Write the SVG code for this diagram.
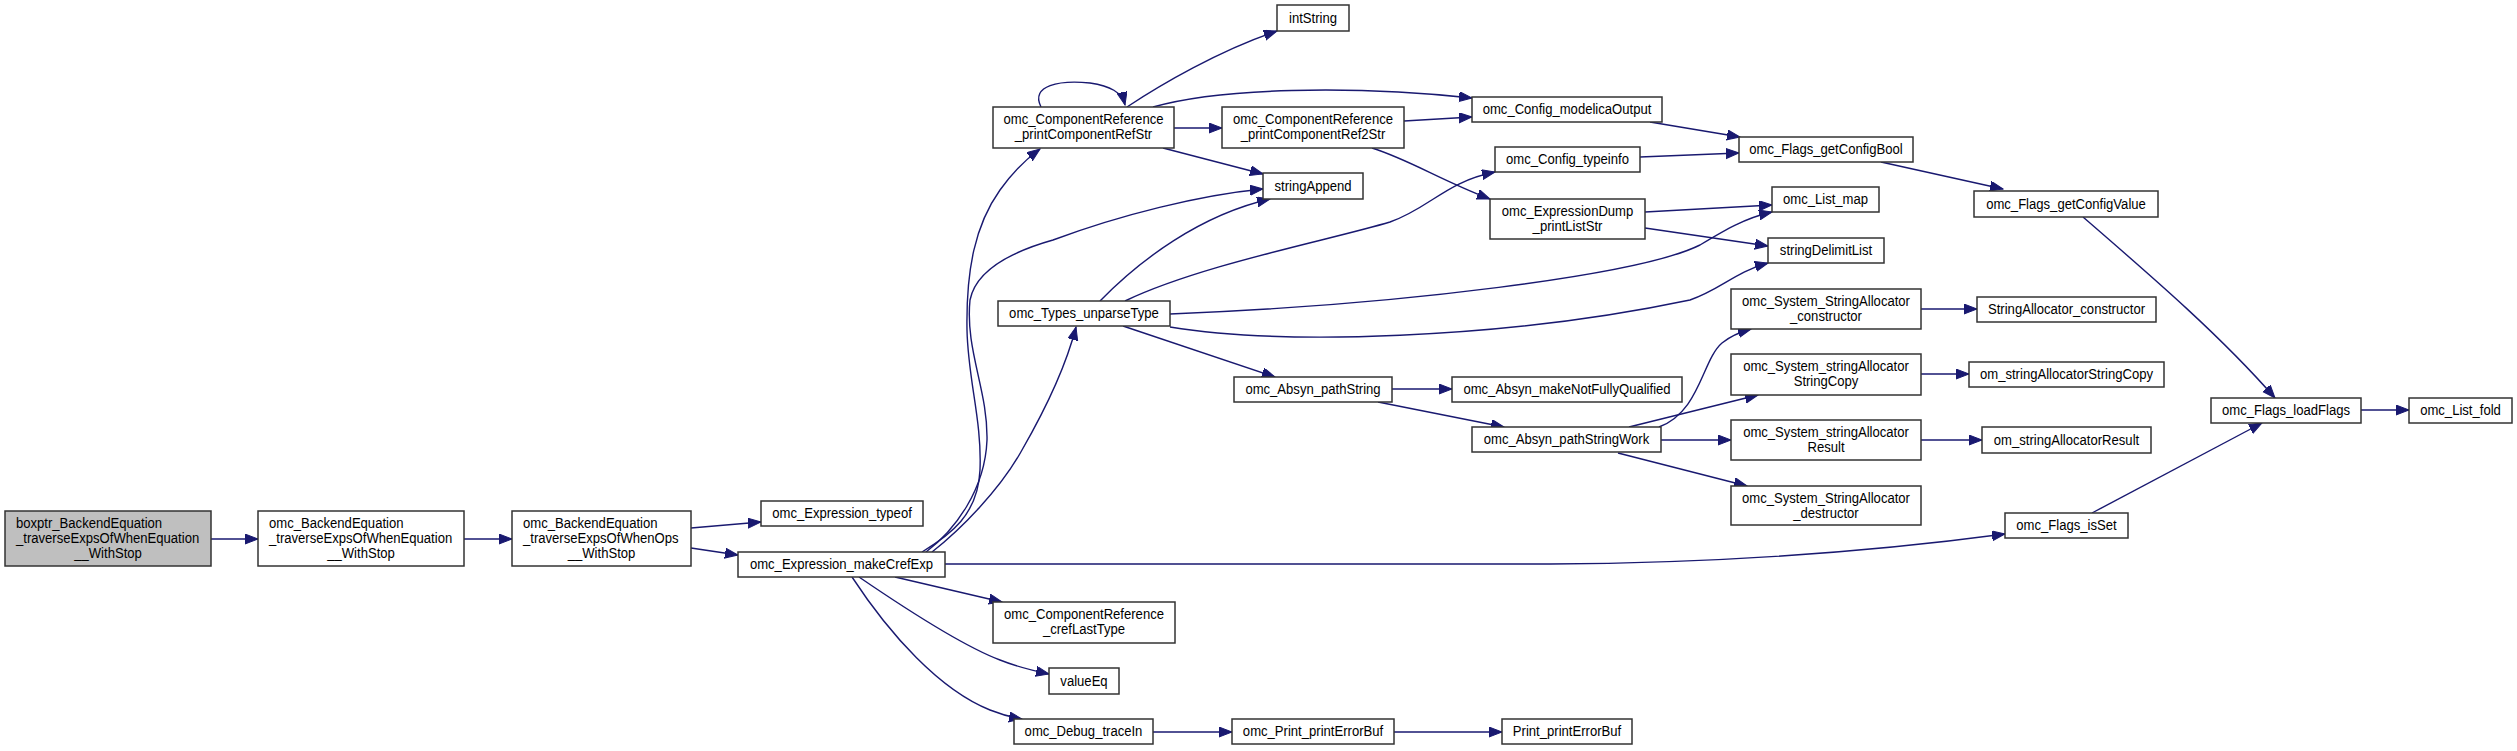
<svg xmlns="http://www.w3.org/2000/svg" width="2517" height="751" viewBox="0 0 2517 751">
<style>
.n rect{fill:#fff;stroke:#333;stroke-width:1.5}
.n.g rect{fill:#bfbfbf}
text{font-family:'Liberation Sans',Arial,Helvetica,sans-serif;font-size:15.5px;fill:#000}
.c{text-anchor:middle}
.e path{fill:none;stroke:#191970;stroke-width:1.4}
</style>
<defs>
<marker id="a" markerUnits="userSpaceOnUse" markerWidth="14" markerHeight="11" refX="13" refY="5" orient="auto">
<path d="M0,0 L13,5 L0,10 z" fill="#191970" stroke="#191970" stroke-width="1"/>
</marker>
</defs>
<rect width="2517" height="751" fill="#fff"/>
<g class="e" marker-end="url(#a)">
<path d="M211,539 L258,539" marker-end="url(#a)"/>
<path d="M464,539 L512,539" marker-end="url(#a)"/>
<path d="M691,528 L761,522" marker-end="url(#a)"/>
<path d="M691,548 L738,555" marker-end="url(#a)"/>
<path d="M922,552 C950,535 978,515 980,470 C982,420 968,380 967,330 C966,270 975,225 1000,190 C1012,173 1025,160 1040,149" marker-end="url(#a)"/>
<path d="M926,552 C955,530 985,490 987,440 C988,390 965,350 970,300 C975,275 1000,255 1053,240 C1120,215 1200,195 1263,189" marker-end="url(#a)"/>
<path d="M932,552 C960,530 1000,490 1022,450 C1045,410 1065,370 1076,327" marker-end="url(#a)"/>
<path d="M945,564 L1550,564 C1750,563 1900,548 2005,534" marker-end="url(#a)"/>
<path d="M895,577 L1002,602" marker-end="url(#a)"/>
<path d="M859,577 C900,605 960,645 1000,660 C1015,666 1030,670 1049,674" marker-end="url(#a)"/>
<path d="M852,577 C890,635 940,690 990,710 C1000,714 1010,717 1022,719" marker-end="url(#a)"/>
<path d="M1153,732 L1232,732" marker-end="url(#a)"/>
<path d="M1394,732 L1502,732" marker-end="url(#a)"/>
<path d="M1041,107 C1030,85 1060,80 1090,83 C1110,86 1122,92 1125,105" marker-end="url(#a)"/>
<path d="M1127,107 C1160,85 1220,50 1277,31" marker-end="url(#a)"/>
<path d="M1153,107 C1220,88 1350,85 1472,98" marker-end="url(#a)"/>
<path d="M1174,128 L1222,128" marker-end="url(#a)"/>
<path d="M1163,148 L1263,174" marker-end="url(#a)"/>
<path d="M1404,121 L1472,117" marker-end="url(#a)"/>
<path d="M1372,148 C1410,160 1440,180 1490,199" marker-end="url(#a)"/>
<path d="M1100,301 C1140,260 1200,215 1270,199" marker-end="url(#a)"/>
<path d="M1125,301 C1200,265 1330,240 1390,222 C1430,208 1445,182 1495,172" marker-end="url(#a)"/>
<path d="M1170,314 C1400,305 1640,275 1700,245 C1725,230 1745,218 1772,212" marker-end="url(#a)"/>
<path d="M1170,327 C1280,345 1500,340 1690,300 C1720,290 1735,272 1768,263" marker-end="url(#a)"/>
<path d="M1123,326 L1275,377" marker-end="url(#a)"/>
<path d="M1650,122 L1740,137" marker-end="url(#a)"/>
<path d="M1640,157 L1739,153" marker-end="url(#a)"/>
<path d="M1645,212 L1772,205" marker-end="url(#a)"/>
<path d="M1645,228 L1768,246" marker-end="url(#a)"/>
<path d="M1881,162 L2003,189" marker-end="url(#a)"/>
<path d="M2083,217 C2150,275 2220,335 2275,398" marker-end="url(#a)"/>
<path d="M2361,410 L2409,410" marker-end="url(#a)"/>
<path d="M2092,513 L2262,423" marker-end="url(#a)"/>
<path d="M1392,389 L1452,389" marker-end="url(#a)"/>
<path d="M1378,402 L1504,427" marker-end="url(#a)"/>
<path d="M1659,427 C1700,412 1702,360 1722,343 C1732,335 1740,332 1751,329" marker-end="url(#a)"/>
<path d="M1629,427 L1758,395" marker-end="url(#a)"/>
<path d="M1661,440 L1731,440" marker-end="url(#a)"/>
<path d="M1618,453 L1747,486" marker-end="url(#a)"/>
<path d="M1921,309 L1977,309" marker-end="url(#a)"/>
<path d="M1921,374 L1969,374" marker-end="url(#a)"/>
<path d="M1921,440 L1982,440" marker-end="url(#a)"/>
</g>
<g id="n1" class="n g"><rect x="5" y="511" width="206" height="55"/><text transform="translate(16,528) scale(0.845,1)">boxptr_BackendEquation</text><text transform="translate(16,543) scale(0.845,1)">_traverseExpsOfWhenEquation</text><text class="c" transform="translate(108,558) scale(0.845,1)">__WithStop</text></g>
<g id="n2" class="n"><rect x="258" y="511" width="206" height="55"/><text transform="translate(269,528) scale(0.845,1)">omc_BackendEquation</text><text transform="translate(269,543) scale(0.845,1)">_traverseExpsOfWhenEquation</text><text class="c" transform="translate(361,558) scale(0.845,1)">__WithStop</text></g>
<g id="n3" class="n"><rect x="512" y="511" width="179" height="55"/><text transform="translate(523,528) scale(0.845,1)">omc_BackendEquation</text><text transform="translate(523,543) scale(0.845,1)">_traverseExpsOfWhenOps</text><text class="c" transform="translate(601.5,558) scale(0.845,1)">__WithStop</text></g>
<g id="n4" class="n"><rect x="761" y="501" width="162" height="25"/><text class="c" transform="translate(842,518) scale(0.845,1)">omc_Expression_typeof</text></g>
<g id="n5" class="n"><rect x="738" y="552" width="207" height="25"/><text class="c" transform="translate(841.5,569) scale(0.845,1)">omc_Expression_makeCrefExp</text></g>
<g id="n6" class="n"><rect x="993" y="107" width="181" height="41"/><text class="c" transform="translate(1083.5,124) scale(0.845,1)">omc_ComponentReference</text><text class="c" transform="translate(1083.5,139) scale(0.845,1)">_printComponentRefStr</text></g>
<g id="n7" class="n"><rect x="998" y="301" width="172" height="25"/><text class="c" transform="translate(1084,318) scale(0.845,1)">omc_Types_unparseType</text></g>
<g id="n8" class="n"><rect x="993" y="602" width="182" height="41"/><text class="c" transform="translate(1084,619) scale(0.845,1)">omc_ComponentReference</text><text class="c" transform="translate(1084,634) scale(0.845,1)">_crefLastType</text></g>
<g id="n9" class="n"><rect x="1049" y="668" width="70" height="26"/><text class="c" transform="translate(1084,686) scale(0.845,1)">valueEq</text></g>
<g id="n10" class="n"><rect x="1014" y="719" width="139" height="25"/><text class="c" transform="translate(1083.5,736) scale(0.845,1)">omc_Debug_traceIn</text></g>
<g id="n11" class="n"><rect x="1277" y="5" width="72" height="26"/><text class="c" transform="translate(1313,23) scale(0.845,1)">intString</text></g>
<g id="n12" class="n"><rect x="1222" y="107" width="182" height="41"/><text class="c" transform="translate(1313,124) scale(0.845,1)">omc_ComponentReference</text><text class="c" transform="translate(1313,139) scale(0.845,1)">_printComponentRef2Str</text></g>
<g id="n13" class="n"><rect x="1263" y="173" width="100" height="26"/><text class="c" transform="translate(1313,191) scale(0.845,1)">stringAppend</text></g>
<g id="n14" class="n"><rect x="1234" y="377" width="158" height="25"/><text class="c" transform="translate(1313,394) scale(0.845,1)">omc_Absyn_pathString</text></g>
<g id="n15" class="n"><rect x="1232" y="719" width="162" height="25"/><text class="c" transform="translate(1313,736) scale(0.845,1)">omc_Print_printErrorBuf</text></g>
<g id="n16" class="n"><rect x="1472" y="97" width="190" height="25"/><text class="c" transform="translate(1567,114) scale(0.845,1)">omc_Config_modelicaOutput</text></g>
<g id="n17" class="n"><rect x="1495" y="147" width="145" height="25"/><text class="c" transform="translate(1567.5,164) scale(0.845,1)">omc_Config_typeinfo</text></g>
<g id="n18" class="n"><rect x="1490" y="199" width="155" height="40"/><text class="c" transform="translate(1567.5,216) scale(0.845,1)">omc_ExpressionDump</text><text class="c" transform="translate(1567.5,231) scale(0.845,1)">_printListStr</text></g>
<g id="n19" class="n"><rect x="1452" y="377" width="230" height="25"/><text class="c" transform="translate(1567,394) scale(0.845,1)">omc_Absyn_makeNotFullyQualified</text></g>
<g id="n20" class="n"><rect x="1472" y="427" width="189" height="25"/><text class="c" transform="translate(1566.5,444) scale(0.845,1)">omc_Absyn_pathStringWork</text></g>
<g id="n21" class="n"><rect x="1502" y="719" width="130" height="25"/><text class="c" transform="translate(1567,736) scale(0.845,1)">Print_printErrorBuf</text></g>
<g id="n22" class="n"><rect x="1739" y="137" width="174" height="25"/><text class="c" transform="translate(1826,154) scale(0.845,1)">omc_Flags_getConfigBool</text></g>
<g id="n23" class="n"><rect x="1772" y="187" width="107" height="25"/><text class="c" transform="translate(1825.5,204) scale(0.845,1)">omc_List_map</text></g>
<g id="n24" class="n"><rect x="1768" y="238" width="116" height="25"/><text class="c" transform="translate(1826,255) scale(0.845,1)">stringDelimitList</text></g>
<g id="n25" class="n"><rect x="1731" y="289" width="190" height="40"/><text class="c" transform="translate(1826,306) scale(0.845,1)">omc_System_StringAllocator</text><text class="c" transform="translate(1826,321) scale(0.845,1)">_constructor</text></g>
<g id="n26" class="n"><rect x="1731" y="354" width="190" height="41"/><text class="c" transform="translate(1826,371) scale(0.845,1)">omc_System_stringAllocator</text><text class="c" transform="translate(1826,386) scale(0.845,1)">StringCopy</text></g>
<g id="n27" class="n"><rect x="1731" y="420" width="190" height="40"/><text class="c" transform="translate(1826,437) scale(0.845,1)">omc_System_stringAllocator</text><text class="c" transform="translate(1826,452) scale(0.845,1)">Result</text></g>
<g id="n28" class="n"><rect x="1731" y="486" width="190" height="39"/><text class="c" transform="translate(1826,503) scale(0.845,1)">omc_System_StringAllocator</text><text class="c" transform="translate(1826,518) scale(0.845,1)">_destructor</text></g>
<g id="n29" class="n"><rect x="2005" y="513" width="123" height="25"/><text class="c" transform="translate(2066.5,530) scale(0.845,1)">omc_Flags_isSet</text></g>
<g id="n30" class="n"><rect x="1974" y="191" width="184" height="26"/><text class="c" transform="translate(2066,209) scale(0.845,1)">omc_Flags_getConfigValue</text></g>
<g id="n31" class="n"><rect x="1977" y="297" width="179" height="25"/><text class="c" transform="translate(2066.5,314) scale(0.845,1)">StringAllocator_constructor</text></g>
<g id="n32" class="n"><rect x="1969" y="362" width="195" height="25"/><text class="c" transform="translate(2066.5,379) scale(0.845,1)">om_stringAllocatorStringCopy</text></g>
<g id="n33" class="n"><rect x="1982" y="427" width="169" height="26"/><text class="c" transform="translate(2066.5,445) scale(0.845,1)">om_stringAllocatorResult</text></g>
<g id="n34" class="n"><rect x="2211" y="398" width="150" height="25"/><text class="c" transform="translate(2286,415) scale(0.845,1)">omc_Flags_loadFlags</text></g>
<g id="n35" class="n"><rect x="2409" y="398" width="103" height="25"/><text class="c" transform="translate(2460.5,415) scale(0.845,1)">omc_List_fold</text></g>
</svg>
